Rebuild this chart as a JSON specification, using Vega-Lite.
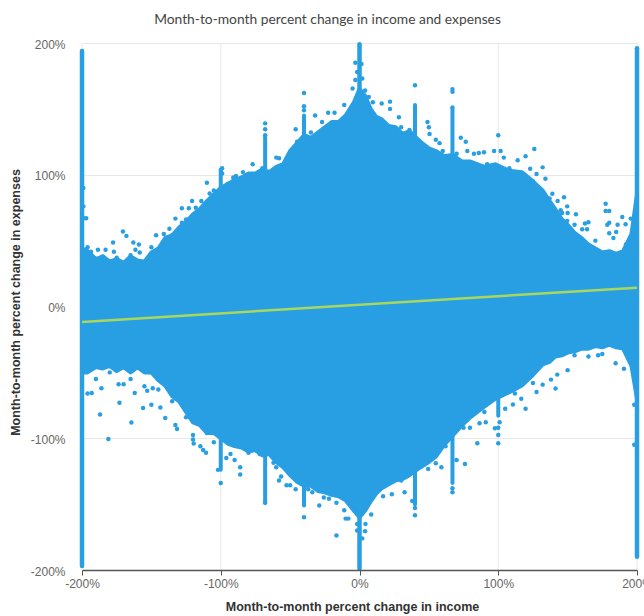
{"$schema":"https://vega.github.io/schema/vega-lite/v6.json","width":555,"height":527,"autosize":"none","padding":{"left":82,"top":43,"right":7,"bottom":46},"background":"white",
"title":{"text":"Month-to-month percent change in income and expenses","font":"Lato","fontSize":13.8,"fontWeight":"normal","color":"#444444","anchor":"middle","dx":-32,"offset":11},
"config":{"view":{"stroke":null}},
"datasets":{
"gridx":[{"x":-200},{"x":-100},{"x":0},{"x":100},{"x":200}],
"envelope":[{"x":-200,"lo":-50,"hi":44},{"x":-196,"lo":-50,"hi":42},{"x":-190,"lo":-46,"hi":36},{"x":-185,"lo":-47,"hi":38},{"x":-180,"lo":-45,"hi":34},{"x":-175,"lo":-49,"hi":36},{"x":-170,"lo":-46,"hi":33},{"x":-165,"lo":-50,"hi":38},{"x":-160,"lo":-46,"hi":35},{"x":-155,"lo":-50,"hi":34},{"x":-150,"lo":-50,"hi":41},{"x":-145,"lo":-56,"hi":44},{"x":-140,"lo":-60,"hi":52},{"x":-135,"lo":-68,"hi":54},{"x":-130,"lo":-72,"hi":60},{"x":-125,"lo":-80,"hi":64},{"x":-120,"lo":-88,"hi":70},{"x":-115,"lo":-90,"hi":74},{"x":-110,"lo":-96,"hi":80},{"x":-105,"lo":-96,"hi":85},{"x":-100,"lo":-100,"hi":90},{"x":-95,"lo":-104,"hi":93},{"x":-90,"lo":-106,"hi":96},{"x":-85,"lo":-107,"hi":98},{"x":-80,"lo":-110,"hi":101},{"x":-75,"lo":-109,"hi":101},{"x":-70,"lo":-113,"hi":104},{"x":-65,"lo":-112,"hi":102},{"x":-60,"lo":-118,"hi":106},{"x":-55,"lo":-122,"hi":108},{"x":-50,"lo":-128,"hi":118},{"x":-45,"lo":-133,"hi":124},{"x":-40,"lo":-136,"hi":130},{"x":-35,"lo":-136,"hi":128},{"x":-30,"lo":-140,"hi":132},{"x":-25,"lo":-141,"hi":136},{"x":-20,"lo":-143,"hi":140},{"x":-15,"lo":-144,"hi":140},{"x":-10,"lo":-147,"hi":145},{"x":-4,"lo":-155,"hi":155},{"x":0,"lo":-160,"hi":165},{"x":4,"lo":-155,"hi":160},{"x":8,"lo":-148,"hi":150},{"x":12,"lo":-142,"hi":144},{"x":16,"lo":-138,"hi":142},{"x":21,"lo":-135,"hi":137},{"x":26,"lo":-132,"hi":136},{"x":31,"lo":-131,"hi":131},{"x":36,"lo":-128,"hi":133},{"x":44,"lo":-122,"hi":125},{"x":50,"lo":-118,"hi":120},{"x":55,"lo":-114,"hi":118},{"x":61,"lo":-105,"hi":114},{"x":67,"lo":-98,"hi":115},{"x":74,"lo":-90,"hi":110},{"x":80,"lo":-84,"hi":110},{"x":90,"lo":-76,"hi":106},{"x":98,"lo":-70,"hi":108},{"x":108,"lo":-65,"hi":103},{"x":117,"lo":-60,"hi":102},{"x":125,"lo":-52,"hi":95},{"x":132,"lo":-44,"hi":88},{"x":137,"lo":-42,"hi":80},{"x":141,"lo":-38,"hi":74},{"x":146,"lo":-37,"hi":66},{"x":150,"lo":-35,"hi":62},{"x":155,"lo":-34,"hi":56},{"x":160,"lo":-32,"hi":52},{"x":165,"lo":-32,"hi":47},{"x":170,"lo":-30,"hi":44},{"x":175,"lo":-31,"hi":41},{"x":180,"lo":-29,"hi":42},{"x":185,"lo":-31,"hi":40},{"x":190,"lo":-32,"hi":42},{"x":196,"lo":-45,"hi":55},{"x":200,"lo":-70,"hi":85}],
"spikes":[{"x":-200,"a":-197,"b":194,"w":4.5},{"x":0,"a":-199,"b":199,"w":4.5},{"x":200,"a":-190,"b":196,"w":4.5},{"x":-68,"a":-149,"b":128,"w":4},{"x":-40,"a":-151,"b":145,"w":4},{"x":40,"a":-150,"b":153,"w":4},{"x":67,"a":-134,"b":150,"w":4},{"x":-100,"a":-124,"b":104,"w":4},{"x":100,"a":-83,"b":100,"w":4}],
"dots":[{"x":-196,"y":45},{"x":-193.5,"y":41.5},{"x":-188.5,"y":43},{"x":-183,"y":43},{"x":-177.6,"y":48.5},{"x":-177,"y":41.5},{"x":-170.5,"y":57},{"x":-168,"y":53.6},{"x":-163,"y":48.5},{"x":-159,"y":47},{"x":-161.5,"y":43},{"x":-158.4,"y":41},{"x":-146.6,"y":54},{"x":-141,"y":55},{"x":-137,"y":59},{"x":-132.7,"y":66.7},{"x":-128,"y":63.6},{"x":-128,"y":74.5},{"x":-123,"y":74.5},{"x":-120.7,"y":80},{"x":-114,"y":80},{"x":-108,"y":80},{"x":-108,"y":85.8},{"x":-110,"y":94},{"x":-118,"y":75},{"x":-99,"y":105},{"x":-99,"y":101},{"x":-91,"y":98},{"x":-89,"y":99},{"x":-84,"y":102},{"x":-77,"y":108},{"x":-60,"y":113},{"x":-58,"y":112.5},{"x":-46,"y":134.6},{"x":-32,"y":145},{"x":-40,"y":162},{"x":-40,"y":152},{"x":-40,"y":149},{"x":-68,"y":139},{"x":-68,"y":134.6},{"x":-68,"y":130},{"x":-27,"y":140},{"x":-199,"y":67},{"x":-197,"y":67},{"x":-199,"y":76},{"x":-199,"y":90},
{"x":-22.6,"y":147},{"x":-18,"y":147},{"x":-11,"y":153},{"x":-3,"y":185},{"x":1.4,"y":184},{"x":-1.7,"y":178},{"x":-3,"y":172},{"x":2,"y":173},{"x":-5,"y":165.5},{"x":4,"y":164},{"x":6.7,"y":159},{"x":9.6,"y":155},{"x":16,"y":154},{"x":22,"y":155.5},{"x":22,"y":150},{"x":28.4,"y":143.6},{"x":40,"y":168},{"x":49,"y":140},{"x":50,"y":136},{"x":50.5,"y":131},{"x":55,"y":126.5},{"x":57.7,"y":124},{"x":73,"y":128},{"x":76.6,"y":125},{"x":77.7,"y":118},{"x":82.5,"y":116},{"x":86,"y":116.5},{"x":89.7,"y":117},{"x":97,"y":118},{"x":101.7,"y":118},{"x":100,"y":130},{"x":104,"y":113},{"x":114,"y":111},{"x":119.7,"y":114},{"x":126,"y":119.5},{"x":123,"y":104.6},{"x":127.6,"y":100.6},{"x":132,"y":105.6},{"x":134,"y":97},{"x":139,"y":85.5},{"x":142.8,"y":80},{"x":147.4,"y":83},{"x":149.7,"y":76},{"x":156,"y":70},{"x":150,"y":71},{"x":162.5,"y":63},{"x":165,"y":64},{"x":177.4,"y":78},{"x":177.4,"y":72.5},{"x":180,"y":72.5},{"x":180,"y":63.6},{"x":178.6,"y":62},{"x":186,"y":62},{"x":189.4,"y":68},{"x":191.8,"y":62.4},{"x":195.5,"y":66.7},{"x":180,"y":55.6},{"x":185,"y":56.6},{"x":183,"y":52},{"x":164,"y":58.6},{"x":160.5,"y":58.6},{"x":149.7,"y":65},{"x":146,"y":71},{"x":67,"y":165},{"x":67,"y":163},{"x":67,"y":151},
{"x":-196,"y":-66},{"x":-193,"y":-65.6},{"x":-186,"y":-62},{"x":-187,"y":-82},{"x":-173,"y":-73},{"x":-181,"y":-100.5},{"x":-164.4,"y":-88},{"x":-162,"y":-65.6},{"x":-156,"y":-77},{"x":-155,"y":-60.6},{"x":-153,"y":-64},{"x":-150,"y":-74.5},{"x":-143.5,"y":-76.6},{"x":-140,"y":-84.7},{"x":-149,"y":-62},{"x":-173.6,"y":-59},{"x":-170,"y":-59},{"x":-131.5,"y":-93},{"x":-132.7,"y":-90},{"x":-119.5,"y":-104},{"x":-120,"y":-97.5},{"x":-114.7,"y":-106},{"x":-112.7,"y":-109},{"x":-110.6,"y":-111},{"x":-105,"y":-103},{"x":-102,"y":-124},{"x":-100,"y":-134},{"x":-96,"y":-115},{"x":-93,"y":-112},{"x":-90,"y":-116.5},{"x":-86,"y":-122},{"x":-86,"y":-127.5},{"x":-62,"y":-118.6},{"x":-60,"y":-122},{"x":-58,"y":-132},{"x":-56.5,"y":-129},{"x":-52.6,"y":-135.6},{"x":-50,"y":-135.6},{"x":-46,"y":-138.7},{"x":-40,"y":-160},{"x":-37,"y":-138.7},{"x":-34,"y":-141},{"x":-29,"y":-151},{"x":-25.7,"y":-145},{"x":-22,"y":-146},{"x":-16.6,"y":-149},{"x":-16.6,"y":-173.8},{"x":-11,"y":-154.7},{"x":-10,"y":-161},{"x":-8,"y":-161},{"x":-1.7,"y":-165},{"x":-1.7,"y":-170},{"x":4.3,"y":-165},{"x":4,"y":-170.5},{"x":2,"y":-176},{"x":8.4,"y":-157.8},{"x":17,"y":-144},{"x":23.3,"y":-142.5},{"x":32.5,"y":-141},{"x":40,"y":-158.5},{"x":40,"y":-153},{"x":38,"y":-147.6},{"x":59,"y":-122},{"x":55,"y":-119},{"x":49.5,"y":-123.4},{"x":45,"y":-120},{"x":70,"y":-116.5},{"x":76,"y":-119.6},{"x":84.9,"y":-103.8},{"x":79.6,"y":-92},{"x":86.5,"y":-88.6},{"x":91,"y":-87.8},{"x":97.6,"y":-92.4},{"x":100,"y":-97.5},{"x":100,"y":-103.8},{"x":101,"y":-87.8},{"x":105,"y":-77.6},{"x":110.6,"y":-74.3},{"x":119.7,"y":-77.6},{"x":116.6,"y":-70},{"x":127.6,"y":-64.9},{"x":132,"y":-59.3},{"x":141.3,"y":-62.3},{"x":138,"y":-55.5},{"x":142.5,"y":-51.7},{"x":150,"y":-48.3},{"x":190.6,"y":-47.3},{"x":184.6,"y":-43},{"x":198,"y":-105},{"x":198,"y":-74.6},{"x":67,"y":-138},{"x":67,"y":-141},{"x":-68,"y":-149},{"x":100,"y":-92},{"x":-120,"y":-101},{"x":165,"y":-38},{"x":175,"y":-36},{"x":155,"y":-37},{"x":172,"y":-37},{"x":125,"y":-58},{"x":112,"y":-66},{"x":90,"y":-80},{"x":75,"y":-92},{"x":62,"y":-106},{"x":30,"y":-132},{"x":-80,"y":-111},{"x":-72,"y":-112},{"x":-110,"y":-96},{"x":-125,"y":-84},{"x":-135,"y":-72},{"x":-145,"y":-63},{"x":-180,"y":-50},{"x":-165,"y":-55},{"x":-190,"y":-55},{"x":-165,"y":39},{"x":-185,"y":38},{"x":-175,"y":37},{"x":-150,"y":45},{"x":-135,"y":54},{"x":-125,"y":66},{"x":-105,"y":88},{"x":-95,"y":93},{"x":-80,"y":100},{"x":-70,"y":105},{"x":-52,"y":112},{"x":-45,"y":125},{"x":-35,"y":132},{"x":30,"y":136},{"x":36,"y":134},{"x":60,"y":118},{"x":70,"y":116},{"x":92,"y":108},{"x":108,"y":105},{"x":125,"y":95},{"x":137,"y":82},{"x":145,"y":73},{"x":155,"y":62},{"x":170,"y":50},{"x":192,"y":47}],
"fit":[{"x":-200,"y":-11.7},{"x":200,"y":14.3}]
},
"encoding":{"x":{"field":"x","type":"quantitative","scale":{"domain":[-200,200],"nice":false},"axis":{"values":[-200,-100,0,100,200],"labelExpr":"datum.value + '%'","title":"Month-to-month percent change in income","titleFont":"Liberation Sans","titleFontSize":12.5,"titleFontWeight":"bold","titleColor":"#333333","titleX":270,"titleY":30,"labelFont":"Liberation Sans","labelFontSize":12,"labelColor":"#666666","labelPadding":3,"labelBound":false,"labelFlush":false,"labelOverlap":false,"domain":true,"ticks":true,"domainColor":"#555555","domainWidth":1.5,"tickColor":"#555555","tickSize":5,"grid":false,"zindex":1}}},
"layer":[
{"data":{"name":"gridx"},"mark":{"type":"rule","color":"#e8e8e8","strokeWidth":1},"encoding":{"x":{"field":"x","type":"quantitative"}}},
{"data":{"name":"envelope"},"mark":{"type":"area","color":"#289fe3","stroke":"#289fe3","strokeWidth":4,"strokeJoin":"round"},
"encoding":{
"y":{"field":"lo","type":"quantitative","scale":{"domain":[-200,200],"nice":false},"axis":{"values":[-200,-100,0,100,200],"labelExpr":"datum.value + '%'","title":"Month-to-month percent change in expenses","titleFont":"Liberation Sans","titleFontSize":12.5,"titleFontWeight":"bold","titleColor":"#333333","titleX":-60,"titleY":259,"labelFont":"Liberation Sans","labelFontSize":12,"labelColor":"#666666","labelPadding":17,"labelOffset":1,"labelBound":false,"labelOverlap":false,"domain":false,"ticks":false,"gridColor":"#e8e8e8","gridWidth":1}},
"y2":{"field":"hi"}}},
{"data":{"name":"spikes"},"mark":{"type":"rule","color":"#289fe3","strokeCap":"round"},"encoding":{"y":{"field":"a","type":"quantitative"},"y2":{"field":"b"},"strokeWidth":{"field":"w","type":"quantitative","scale":null,"legend":null}}},
{"data":{"name":"dots"},"mark":{"type":"circle","color":"#289fe3","size":20,"opacity":1},"encoding":{"y":{"field":"y","type":"quantitative"}}},
{"data":{"name":"fit"},"mark":{"type":"line","color":"#a9d65c","strokeWidth":2.5},"encoding":{"y":{"field":"y","type":"quantitative"}}}
]}
